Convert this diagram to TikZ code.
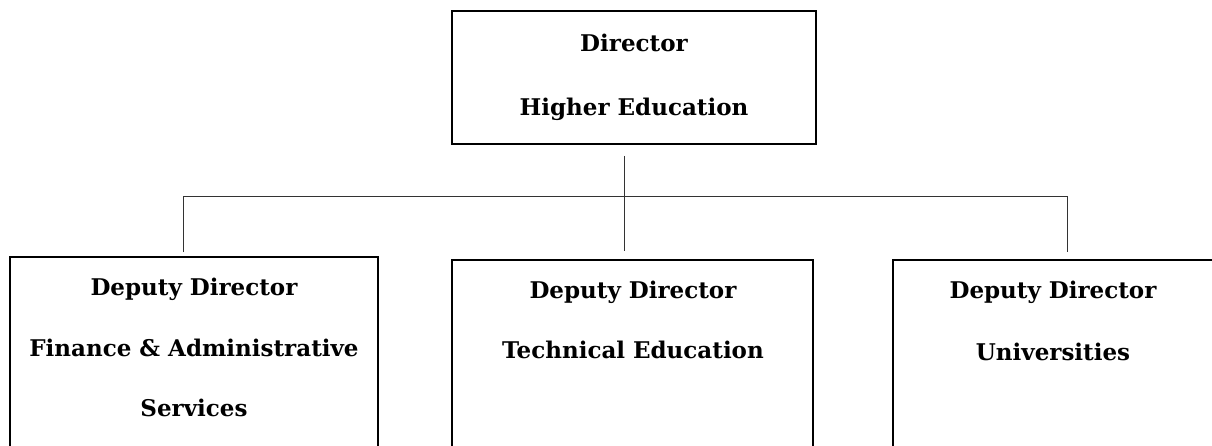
\documentclass[tikz,border=0pt]{standalone}
\usepackage{fontspec}
\newfontfamily\boxfont{DejaVu Serif}
\tikzset{
  orgbox/.style={draw=black, line width=1.6pt, rectangle, inner sep=0pt, fill=none},
  orgtext/.style={align=center, inner sep=0pt, anchor=north, font=\boxfont\bfseries\fontsize{23}{60.5}\selectfont},
  conn/.style={draw=black!80, line width=0.9pt}
}
\begin{document}
\begin{tikzpicture}[x=1pt,y=-1pt]
\clip (0,0) rectangle (1212,445);
\useasboundingbox (0,0) rectangle (1212,445);
\fill[white] (0,0) rectangle (1212,445);
% boxes
\node[orgbox, minimum width=364pt, minimum height=133pt] (top) at (634,77.5) {};
\node[orgbox, minimum width=368pt, minimum height=260pt] (left) at (194,387) {};
\node[orgbox, minimum width=361pt, minimum height=260pt] (mid) at (632.5,390) {};
\node[orgbox, minimum width=380pt, minimum height=260pt] (right) at (1083,390) {};
% texts
\node[orgtext, font=\boxfont\bfseries\fontsize{23}{64}\selectfont] (ttop) at (634,34) {Director\\Higher Education};
\node[orgtext] (tleft) at (194,278) {Deputy Director\\Finance \& Administrative\\Services};
\node[orgtext] (tmid) at (633,280.5) {Deputy Director\\Technical Education};
\node[orgtext, font=\boxfont\bfseries\fontsize{23}{62}\selectfont] (tright) at (1053,280.5) {Deputy Director\\Universities};
% connectors
\coordinate (hub) at (624,196);
\coordinate (lbar) at (183,196);
\coordinate (rbar) at (1067,196);
\draw[conn] ([yshift=-11pt]top.south -| hub) -- ([yshift=8pt]mid.north -| hub);
\draw[conn] ([yshift=4pt]left.north -| lbar) -- (lbar) -- (rbar) -- ([yshift=7pt]right.north -| rbar);
\end{tikzpicture}
\end{document}
